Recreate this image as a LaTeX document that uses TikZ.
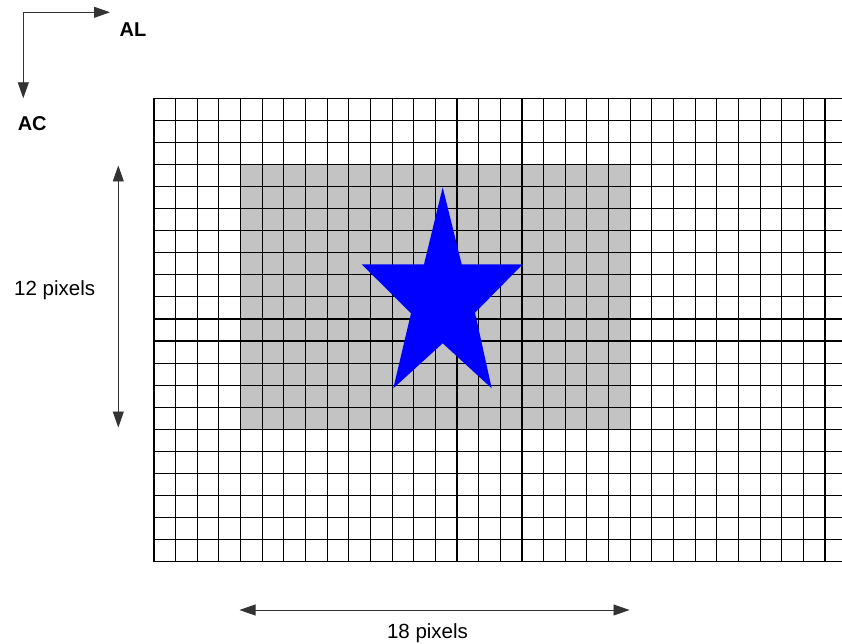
\documentclass[tikz,border=0pt]{standalone}
\usepackage{fontspec}
\setmainfont{Liberation Sans}
\usetikzlibrary{arrows.meta}
\definecolor{cellgray}{RGB}{195,195,195}
\definecolor{starblue}{RGB}{0,0,255}
\tikzset{
  gridline/.style={black, line width=1.1pt},
  dimarrow/.style={black!80, line width=0.9pt, {Triangle[length=16pt,width=11pt]}-{Triangle[length=16pt,width=11pt]}},
  axisarrow/.style={black!80, line width=0.9pt, -{Triangle[length=16pt,width=11pt]}},
  lbl/.style={font=\fontsize{20.5}{24}\selectfont, inner sep=0pt, anchor=base},
  axlbl/.style={font=\fontsize{20}{24}\selectfont\bfseries, inner sep=0pt, anchor=base}
}
\begin{document}
\begin{tikzpicture}[x=1pt,y=-1pt]
\useasboundingbox (0,0) rectangle (842,644);
% gray region (18 x 12 cells)
\path[fill=cellgray] (240.58,164.5) rectangle (630.19,429.3);
% grid
\begin{scope}
\clip (0,0) rectangle (842,644);
\foreach \k in {0,...,32} {
  \draw[gridline] ({154+21.645*\k},98.3) -- ({154+21.645*\k},561.7);
}
\foreach \j in {0,...,21} {
  \draw[gridline] (154,{98.3+22.067*\j}) -- (842,{98.3+22.067*\j});
}
\end{scope}
% star
\fill[starblue] (442.7,187.3) -- (461.7,264.3) -- (522.7,264.3) -- (475,312.7)
  -- (491.7,388.3) -- (442.7,343.3) -- (393.3,388.3) -- (411,313.3)
  -- (361.7,264.3) -- (424,264.3) -- cycle;
% axes
\coordinate (corner) at (23.3,12.3);
\coordinate (alend) at (110,12.3);
\coordinate (acend) at (23.3,98.3);
\draw[axisarrow] (corner) -- (alend);
\draw[axisarrow] (corner) -- (acend);
\node[axlbl] (al) at (133,36.5) {AL};
\node[axlbl] (ac) at (32.2,131) {AC};
% dimension arrows
\coordinate (vtop) at (118.3,165.5);
\coordinate (vbot) at (118.3,427.5);
\draw[dimarrow] (vtop) -- (vbot);
\node[lbl] (h) at (54.7,295.5) {12 pixels};
\coordinate (hl) at (239.5,610);
\coordinate (hr) at (629.5,610);
\draw[dimarrow] (hl) -- (hr);
\node[lbl] (w) at (427.5,638) {18 pixels};
\end{tikzpicture}
\end{document}
